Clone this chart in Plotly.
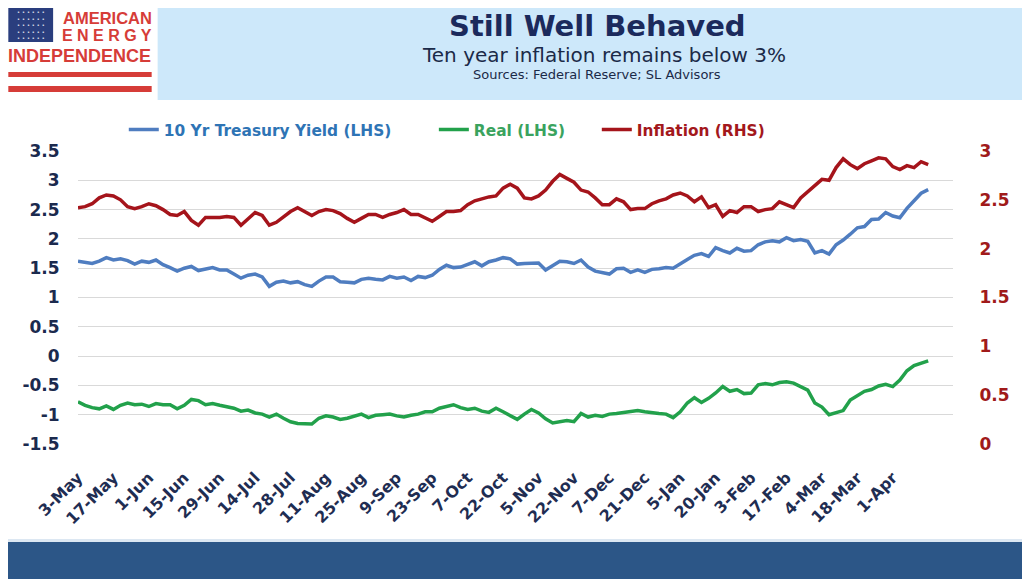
import pandas as pd
import plotly.graph_objects as go

# ---------------------------------- data ----------------------------------

START_DATE = "2021-05-03"
BOND_HOLIDAYS = [
    "2021-05-31", "2021-07-05", "2021-09-06", "2021-10-11", "2021-11-11",
    "2021-11-25", "2021-12-24", "2022-01-17", "2022-02-21", "2022-04-15",
]
N_DAYS = 241
STEP = 2  # one reading every second business day

TICK_LABELS = [
    "3-May", "17-May", "1-Jun", "15-Jun", "29-Jun", "14-Jul", "28-Jul", "11-Aug",
    "25-Aug", "9-Sep", "23-Sep", "7-Oct", "22-Oct", "5-Nov", "22-Nov", "7-Dec",
    "21-Dec", "5-Jan", "20-Jan", "3-Feb", "17-Feb", "4-Mar", "18-Mar", "1-Apr",
]

TREASURY = [
    1.62, 1.60, 1.58, 1.62, 1.68, 1.64, 1.66, 1.63, 1.57, 1.62,
    1.60, 1.64, 1.56, 1.51, 1.45, 1.50, 1.53, 1.46, 1.49, 1.51,
    1.47, 1.47, 1.40, 1.33, 1.38, 1.40, 1.35, 1.19, 1.26, 1.28,
    1.25, 1.27, 1.22, 1.19, 1.28, 1.35, 1.35, 1.27, 1.26, 1.25,
    1.31, 1.33, 1.31, 1.30, 1.36, 1.33, 1.35, 1.29, 1.36, 1.34,
    1.38, 1.48, 1.55, 1.51, 1.52, 1.57, 1.61, 1.54, 1.61, 1.64,
    1.68, 1.66, 1.57, 1.58, 1.59, 1.59, 1.47, 1.55, 1.62, 1.61,
    1.58, 1.64, 1.52, 1.45, 1.43, 1.40, 1.49, 1.50, 1.43, 1.47,
    1.43, 1.48, 1.49, 1.51, 1.50, 1.58, 1.65, 1.72, 1.75, 1.70,
    1.85, 1.80, 1.76, 1.84, 1.79, 1.80, 1.90, 1.95, 1.97, 1.95,
    2.02, 1.97, 1.99, 1.96, 1.76, 1.80, 1.74, 1.90, 1.98, 2.08,
    2.19, 2.21, 2.33, 2.34, 2.45, 2.39, 2.36, 2.52, 2.65, 2.78,
    2.84,
]

REAL = [
    -0.78, -0.84, -0.88, -0.90, -0.85, -0.91, -0.84, -0.80, -0.83, -0.82,
    -0.86, -0.81, -0.83, -0.83, -0.90, -0.84, -0.74, -0.76, -0.83, -0.81,
    -0.84, -0.86, -0.89, -0.94, -0.92, -0.97, -0.99, -1.04, -0.99, -1.06,
    -1.12, -1.15, -1.16, -1.16, -1.06, -1.02, -1.04, -1.08, -1.06, -1.02,
    -0.99, -1.05, -1.01, -1.00, -0.99, -1.02, -1.04, -1.01, -0.99, -0.95,
    -0.95, -0.89, -0.86, -0.83, -0.88, -0.91, -0.89, -0.94, -0.96, -0.89,
    -0.95, -1.02, -1.08, -0.99, -0.91, -0.97, -1.07, -1.14, -1.12, -1.10,
    -1.12, -0.98, -1.04, -1.01, -1.03, -0.99, -0.98, -0.96, -0.95, -0.93,
    -0.95, -0.97, -0.98, -0.99, -1.05, -0.95, -0.80, -0.71, -0.79, -0.72,
    -0.63, -0.52, -0.60, -0.57, -0.64, -0.63, -0.49, -0.47, -0.49, -0.45,
    -0.44, -0.46, -0.52, -0.58, -0.80, -0.87, -1.00, -0.96, -0.93, -0.75,
    -0.68, -0.60, -0.57, -0.51, -0.48, -0.52, -0.41, -0.25, -0.16, -0.12,
    -0.08,
]

INFLATION = [
    2.42, 2.43, 2.46, 2.52, 2.55, 2.54, 2.50, 2.43, 2.41, 2.43,
    2.46, 2.44, 2.40, 2.35, 2.34, 2.38, 2.29, 2.24, 2.32, 2.32,
    2.32, 2.33, 2.32, 2.24, 2.30, 2.37, 2.34, 2.24, 2.27, 2.33,
    2.38, 2.42, 2.38, 2.34, 2.38, 2.40, 2.39, 2.36, 2.31, 2.27,
    2.31, 2.35, 2.35, 2.32, 2.35, 2.37, 2.40, 2.35, 2.35, 2.31,
    2.28, 2.33, 2.38, 2.38, 2.39, 2.45, 2.49, 2.51, 2.53, 2.54,
    2.62, 2.66, 2.62, 2.52, 2.51, 2.54, 2.60, 2.69, 2.76, 2.72,
    2.68, 2.60, 2.58, 2.52, 2.45, 2.45, 2.51, 2.48, 2.40, 2.41,
    2.41, 2.46, 2.49, 2.51, 2.55, 2.57, 2.54, 2.48, 2.53, 2.42,
    2.45, 2.33, 2.39, 2.37, 2.43, 2.43, 2.38, 2.40, 2.41, 2.48,
    2.45, 2.42, 2.52, 2.58, 2.64, 2.71, 2.70, 2.83, 2.92, 2.86,
    2.82, 2.87, 2.90, 2.93, 2.92, 2.84, 2.81, 2.85, 2.83, 2.89,
    2.86,
]

LEFT_TICKS = [-1.5, -1, -0.5, 0, 0.5, 1, 1.5, 2, 2.5, 3, 3.5]
RIGHT_TICKS = [0, 0.5, 1, 1.5, 2, 2.5, 3]

# --------------------------------- styling ---------------------------------

BLUE, GREEN, RED = "#4F7DC0", "#22A14B", "#A5141B"
NAVY = "#1B2A4E"
LOGO_RED = "#D63C38"
FONT = "DejaVu Sans"

# page is 1030x579, the browser puts the figure 8px in from the top-left
PAGE_W, PAGE_H, OFFSET = 1030, 579, 8
W, H = PAGE_W - 2 * OFFSET, PAGE_H - OFFSET
PLOT_L, PLOT_R, PLOT_T, PLOT_B = 78, 957, 151, 444  # page pixels


def px(x):
    return (x - PLOT_L) / (PLOT_R - PLOT_L)


def py(y):
    return (PLOT_B - y) / (PLOT_B - PLOT_T)


days = pd.bdate_range(START_DATE, periods=N_DAYS, freq="C", holidays=BOND_HOLIDAYS)
days = days[::STEP]
categories = [f"{d.day}-{d:%b}" for d in days]

fig = go.Figure()
fig.add_trace(
    go.Scatter(
        x=categories, y=TREASURY, mode="lines",
        name="<span style='color:#2E74B5'>10 Yr Treasury Yield (LHS)</span>" + "\u00a0" * 7,
        line=dict(color=BLUE, width=3.5),
    )
)
fig.add_trace(
    go.Scatter(
        x=categories, y=REAL, mode="lines",
        name="<span style='color:#3AA35E'>Real (LHS)</span>" + "\u00a0" * 5,
        line=dict(color=GREEN, width=3.5),
    )
)
fig.add_trace(
    go.Scatter(
        x=categories, y=INFLATION, mode="lines", yaxis="y2",
        name="<span style='color:#A3181C'>Inflation (RHS)</span>",
        line=dict(color=RED, width=3.5),
    )
)

shapes = [
    # header band and footer bar
    dict(x0=px(158), x1=px(PAGE_W), y0=py(0), y1=py(100), fillcolor="#CDE8FA"),
    dict(x0=px(0), x1=px(PAGE_W), y0=py(539), y1=py(542), fillcolor="#DCE7F2"),
    dict(x0=px(0), x1=px(PAGE_W), y0=py(542), y1=py(PAGE_H), fillcolor="#2C5687"),
    # logo
    dict(x0=px(8), x1=px(53), y0=py(8), y1=py(42), fillcolor="#2A3E7E"),
    dict(x0=px(8), x1=px(152), y0=py(72), y1=py(77), fillcolor=LOGO_RED),
    dict(x0=px(8), x1=px(152), y0=py(86), y1=py(92), fillcolor=LOGO_RED),
]
shapes = [
    dict(type="rect", xref="paper", yref="paper", line_width=0, layer="below", **s)
    for s in shapes
]

stars = "<br>".join(["•\u2009\u2009•\u2009\u2009•\u2009\u2009•\u2009\u2009•\u2009\u2009•"] * 5)

annotations = [
    dict(x=px(600), y=py(8), text="<b>Still Well Behaved</b>", yanchor="top",
         font=dict(family=FONT, size=29, color="#1B2A5C")),
    dict(x=px(606), y=py(55), text="Ten year inflation remains below 3%",
         font=dict(family=FONT, size=20, color="#1B2A48")),
    dict(x=px(599), y=py(74), text="Sources: Federal Reserve; SL Advisors",
         font=dict(family=FONT, size=13, color="#1B2A48")),
    dict(x=px(30.5), y=py(25), text=stars,
         font=dict(family=FONT, size=5, color="white")),
    dict(x=px(153), y=py(8), text="<b>AMERICAN</b>", xanchor="right", yanchor="top",
         font=dict(family="Liberation Sans", size=16.5, color=LOGO_RED)),
    dict(x=px(153), y=py(35), text="<b>E N E R G Y</b>", xanchor="right",
         font=dict(family="Liberation Sans", size=16, color=LOGO_RED)),
    dict(x=px(80), y=py(56), text="<b>INDEPENDENCE</b>",
         font=dict(family="Liberation Sans", size=18, color=LOGO_RED)),
]
for a in annotations:
    a.update(xref="paper", yref="paper", showarrow=False, borderpad=0)
    a.setdefault("xanchor", "center")
    a.setdefault("yanchor", "middle")

fig.update_layout(
    width=W,
    height=H,
    margin=dict(
        l=PLOT_L - OFFSET, r=PAGE_W - OFFSET - PLOT_R,
        t=PLOT_T - OFFSET, b=PAGE_H - PLOT_B, pad=0,
    ),
    paper_bgcolor="white",
    plot_bgcolor="white",
    font=dict(family=FONT, color=NAVY),
    showlegend=True,
    legend=dict(
        orientation="h", x=px(124), y=py(113), xanchor="left", yanchor="top",
        font=dict(family=FONT, size=15.4, weight="bold"),
        itemwidth=30, bgcolor="rgba(0,0,0,0)",
    ),
    xaxis=dict(
        type="category", range=[0, 123.5], tickmode="array", tickvals=TICK_LABELS,
        tickangle=-45, tickfont=dict(family=FONT, size=16, weight="bold", color="#1F2D52"),
        showgrid=False, showline=False, zeroline=False,
        ticks="outside", ticklen=17, tickcolor="rgba(0,0,0,0)",
    ),
    yaxis=dict(
        range=[-1.5, 3.5], tickmode="array", tickvals=LEFT_TICKS,
        ticktext=[f"{v:g}" for v in LEFT_TICKS],
        tickfont=dict(family=FONT, size=17, weight="bold", color=NAVY),
        showgrid=True, gridcolor="#D9D9D9", gridwidth=1, zeroline=False, showline=False,
        ticks="outside", ticklen=14, tickcolor="rgba(0,0,0,0)",
    ),
    yaxis2=dict(
        range=[0, 3], overlaying="y", side="right", tickmode="array",
        tickvals=RIGHT_TICKS, ticktext=[f"{v:g}" for v in RIGHT_TICKS],
        tickfont=dict(family=FONT, size=17, weight="bold", color="#A01A1A"),
        showgrid=False, zeroline=False, showline=False,
        ticks="outside", ticklen=22, tickcolor="rgba(0,0,0,0)",
    ),
    shapes=shapes,
    annotations=annotations,
)

fig.write_html("out.html")
